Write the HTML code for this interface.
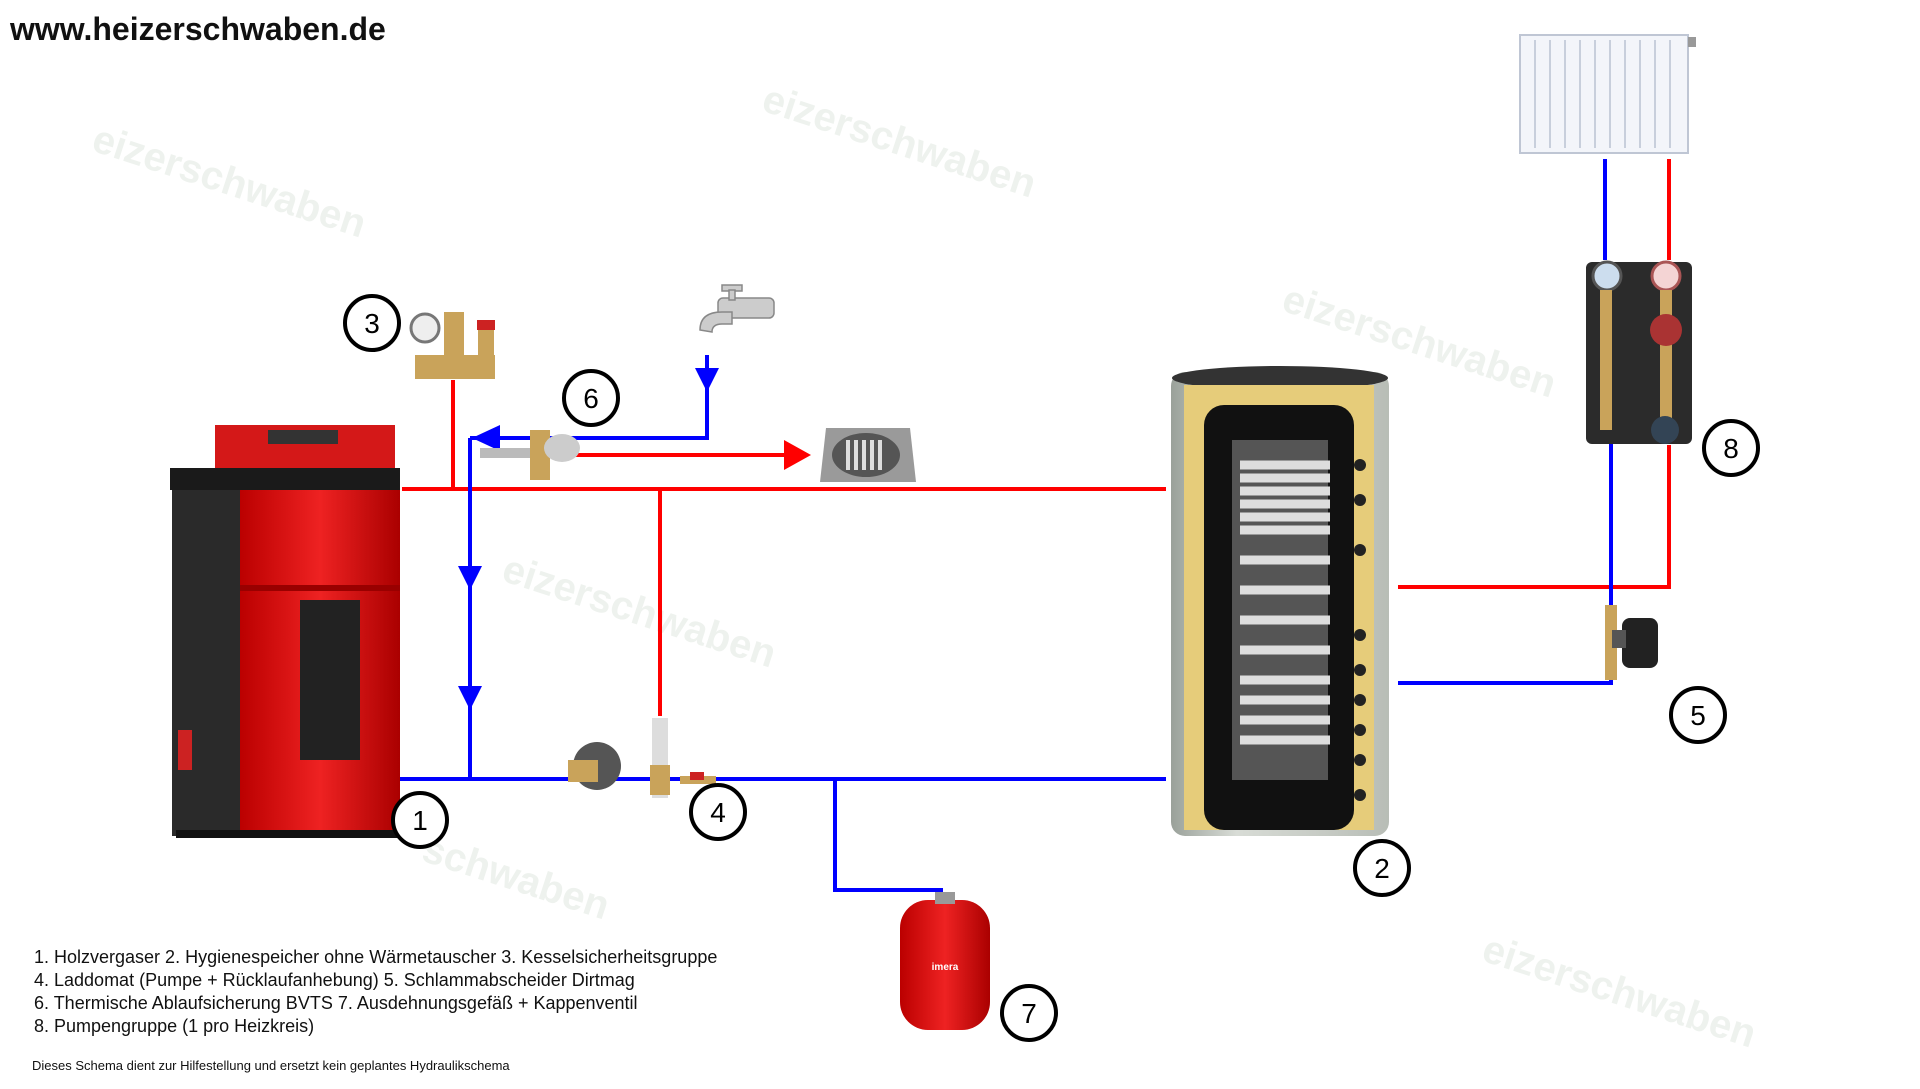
<!DOCTYPE html>
<html><head><meta charset="utf-8"><style>
html,body{margin:0;padding:0;background:#fff;}
svg{display:block;}
text{font-family:"Liberation Sans",sans-serif;}
</style></head><body>
<svg width="1920" height="1089" viewBox="0 0 1920 1089" xmlns="http://www.w3.org/2000/svg">
<defs>
<linearGradient id="tank" x1="0" x2="1"><stop offset="0" stop-color="#9aa19a"/><stop offset="0.3" stop-color="#d8dcd6"/><stop offset="1" stop-color="#b8bdb6"/></linearGradient>
<linearGradient id="red" x1="0" x2="1"><stop offset="0" stop-color="#b00"/><stop offset="0.5" stop-color="#e22"/><stop offset="1" stop-color="#a00"/></linearGradient>
</defs>
<g fill="#eef2ee" font-weight="bold" font-size="40">
<text x="90" y="150" transform="rotate(18 90 150)">eizerschwaben</text>
<text x="760" y="110" transform="rotate(18 760 110)">eizerschwaben</text>
<text x="1280" y="310" transform="rotate(18 1280 310)">eizerschwaben</text>
<text x="500" y="580" transform="rotate(18 500 580)">eizerschwaben</text>
<text x="1480" y="960" transform="rotate(18 1480 960)">eizerschwaben</text>
<text x="420" y="860" transform="rotate(18 420 860)">schwaben</text>
</g>
<text x="10" y="40" font-size="32" font-weight="bold" fill="#111">www.heizerschwaben.de</text>

<g fill="none" stroke-width="4">
<path d="M402 489H1166" stroke="#f00"/>
<path d="M453 380V489" stroke="#f00"/>
<path d="M660 489V716" stroke="#f00"/>
<path d="M540 455H790" stroke="#f00"/>
<path d="M470 438V779" stroke="#00f"/>
<path d="M470 438H707V355" stroke="#00f"/>
<path d="M394 779H1166" stroke="#00f"/>
<path d="M835 779V890H943" stroke="#00f"/>
<path d="M1398 587H1669V445" stroke="#f00"/>
<path d="M1669 260V159" stroke="#f00"/>
<path d="M1398 683H1611V443" stroke="#00f"/>
<path d="M1605 260V159" stroke="#00f"/>
</g>
<g>
<polygon points="784,440 811,455 784,470" fill="#f00"/>
<polygon points="695,368 719,368 707,392" fill="#00f"/>
<polygon points="472,438 500,425 500,451" fill="#00f"/>
<polygon points="458,566 482,566 470,590" fill="#00f"/>
<polygon points="458,686 482,686 470,710" fill="#00f"/>
</g>

<g>
<rect x="172" y="468" width="80" height="368" fill="#2a2a2a"/>
<rect x="215" y="425" width="180" height="50" fill="#d41818"/>
<rect x="268" y="430" width="70" height="14" fill="#333"/>
<rect x="240" y="470" width="160" height="360" fill="url(#red)"/>
<rect x="170" y="468" width="230" height="22" fill="#1a1a1a"/>
<rect x="300" y="600" width="60" height="160" fill="#222"/>
<rect x="240" y="585" width="160" height="6" fill="#900"/>
<rect x="176" y="830" width="224" height="8" fill="#111"/>
<rect x="178" y="730" width="14" height="40" fill="#c22"/>
</g>
<g>
<rect x="1171" y="372" width="218" height="464" rx="14" fill="url(#tank)"/>
<ellipse cx="1280" cy="378" rx="108" ry="12" fill="#333"/>
<rect x="1184" y="385" width="190" height="445" fill="#e6cc7a"/>
<rect x="1204" y="405" width="150" height="425" rx="20" fill="#111"/>
<rect x="1232" y="440" width="96" height="340" fill="#555"/>
<g stroke="#ddd" stroke-width="9" fill="none">
<path d="M1240 465h90M1240 478h90M1240 491h90M1240 504h90M1240 517h90M1240 530h90M1240 560h90M1240 590h90M1240 620h90M1240 650h90M1240 680h90M1240 700h90M1240 720h90M1240 740h90"/>
</g>
<g fill="#222"><circle cx="1360" cy="465" r="6"/><circle cx="1360" cy="500" r="6"/><circle cx="1360" cy="550" r="6"/><circle cx="1360" cy="635" r="6"/><circle cx="1360" cy="670" r="6"/><circle cx="1360" cy="700" r="6"/><circle cx="1360" cy="730" r="6"/><circle cx="1360" cy="760" r="6"/><circle cx="1360" cy="795" r="6"/></g>
</g>
<g>
<rect x="1520" y="35" width="168" height="118" fill="#f3f5fa" stroke="#bfc6d4" stroke-width="2"/>
<g stroke="#c8cfdc" stroke-width="2"><path d="M1535 40v108M1550 40v108M1565 40v108M1580 40v108M1595 40v108M1610 40v108M1625 40v108M1640 40v108M1655 40v108M1670 40v108"/></g>
<rect x="1688" y="37" width="8" height="10" fill="#999"/>
</g>
<g>
<rect x="1586" y="262" width="106" height="182" rx="6" fill="#2b2b2b"/>
<circle cx="1607" cy="276" r="14" fill="#cde" stroke="#555" stroke-width="3"/>
<circle cx="1666" cy="276" r="14" fill="#f4d4d4" stroke="#a55" stroke-width="3"/>
<rect x="1600" y="290" width="12" height="140" fill="#c9a35a"/>
<rect x="1660" y="290" width="12" height="140" fill="#c9a35a"/>
<circle cx="1666" cy="330" r="16" fill="#a33"/>
<circle cx="1665" cy="430" r="14" fill="#345"/>
</g>
<g>
<circle cx="425" cy="328" r="14" fill="#eee" stroke="#777" stroke-width="3"/>
<rect x="444" y="312" width="20" height="50" fill="#c9a35a"/>
<rect x="415" y="355" width="80" height="24" fill="#c9a35a"/>
<rect x="478" y="322" width="16" height="35" fill="#c9a35a"/>
<rect x="477" y="320" width="18" height="10" fill="#c22"/>
</g>
<g fill="#ccc" stroke="#888" stroke-width="1.5">
<rect x="718" y="298" width="56" height="20" rx="5"/>
<path d="M700 330q0-18 22-18h10v12h-10q-10 0-10 8z"/>
<rect x="722" y="285" width="20" height="6"/>
<rect x="729" y="290" width="6" height="10"/>
</g>
<g>
<polygon points="826,428 910,428 916,482 820,482" fill="#9a9a9a"/>
<ellipse cx="866" cy="455" rx="34" ry="22" fill="#555"/>
<g stroke="#ddd" stroke-width="4"><path d="M848 440v30M856 440v30M864 440v30M872 440v30M880 440v30"/></g>
</g>
<g>
<rect x="480" y="448" width="70" height="10" fill="#bbb"/>
<rect x="530" y="430" width="20" height="50" fill="#c9a35a"/>
<ellipse cx="562" cy="448" rx="18" ry="14" fill="#ccc"/>
</g>
<g>
<circle cx="597" cy="766" r="24" fill="#555"/>
<rect x="568" y="760" width="30" height="22" fill="#c9a35a"/>
<rect x="652" y="718" width="16" height="80" fill="#ddd"/>
<rect x="650" y="765" width="20" height="30" fill="#c9a35a"/>
<rect x="680" y="776" width="36" height="8" fill="#c9a35a"/>
<rect x="690" y="772" width="14" height="8" fill="#c22"/>
</g>
<g>
<rect x="1605" y="605" width="12" height="75" fill="#c9a35a"/>
<rect x="1622" y="618" width="36" height="50" rx="8" fill="#222"/>
<rect x="1612" y="630" width="14" height="18" fill="#555"/>
</g>
<g>
<rect x="900" y="900" width="90" height="130" rx="28" fill="url(#red)"/>
<rect x="935" y="892" width="20" height="12" fill="#999"/>
<text x="945" y="970" font-size="10" fill="#fff" text-anchor="middle" font-weight="bold">imera</text>
</g>

<g fill="#fff" stroke="#000" stroke-width="4">
<circle cx="420" cy="820" r="27"/><circle cx="1382" cy="868" r="27"/><circle cx="372" cy="323" r="27"/><circle cx="718" cy="812" r="27"/>
<circle cx="1698" cy="715" r="27"/><circle cx="591" cy="398" r="27"/><circle cx="1029" cy="1013" r="27"/><circle cx="1731" cy="448" r="27"/>
</g>
<g font-size="28" text-anchor="middle" fill="#000">
<text x="420" y="830">1</text><text x="1382" y="878">2</text><text x="372" y="333">3</text><text x="718" y="822">4</text>
<text x="1698" y="725">5</text><text x="591" y="408">6</text><text x="1029" y="1023">7</text><text x="1731" y="458">8</text>
</g>

<g font-size="18" fill="#111" xml:space="preserve" style="white-space:pre">
<text x="34" y="963">1. Holzvergaser   2. Hygienespeicher ohne Wärmetauscher  3. Kesselsicherheitsgruppe</text>
<text x="34" y="986">4. Laddomat (Pumpe + Rücklaufanhebung) 5. Schlammabscheider Dirtmag</text>
<text x="34" y="1009">6. Thermische Ablaufsicherung BVTS   7. Ausdehnungsgefäß + Kappenventil</text>
<text x="34" y="1032">8. Pumpengruppe (1 pro Heizkreis)</text>
</g>
<text x="32" y="1070" font-size="13" fill="#111">Dieses Schema dient zur Hilfestellung und ersetzt kein geplantes Hydraulikschema</text>
</svg>
</body></html>
